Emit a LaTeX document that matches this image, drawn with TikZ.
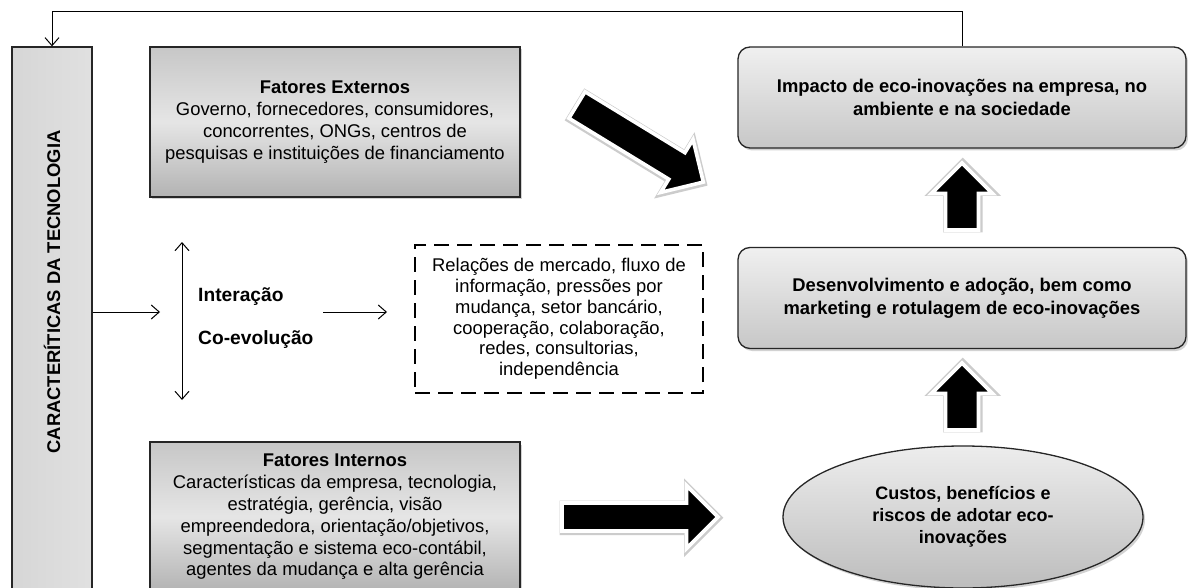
\documentclass[tikz,border=0pt]{standalone}
\usepackage{fontspec}
\setmainfont{Liberation Sans}
\usetikzlibrary{arrows.meta,shapes.geometric,shadows}
\tikzset{
  boxshadow/.style={drop shadow={opacity=0.35,shadow xshift=2pt,shadow yshift=-2.5pt}},
  factorbox/.style={draw=black!85, line width=1.3pt, minimum width=370pt, minimum height=150pt,
    top color=black!22, bottom color=black!30, middle color=black!10, align=center,
    font=\fontsize{18.4}{21.8}\selectfont, boxshadow, inner sep=0pt},
  roundbox/.style={draw=black!85, line width=1.3pt, rounded corners=12pt, minimum width=448pt,
    minimum height=101pt, top color=black!6, bottom color=black!22, align=center,
    font=\bfseries\fontsize{18.4}{23}\selectfont, boxshadow, inner sep=0pt},
  ellbox/.style={ellipse, draw=black!85, line width=1.3pt, minimum width=360pt, minimum height=142pt,
    top color=black!7, bottom color=black!26, align=center, inner sep=0pt,
    font=\bfseries\fontsize{18}{22}\selectfont, boxshadow},
  dashbox/.style={draw=black, line width=2.4pt, dash pattern=on 15pt off 8pt, minimum width=288pt,
    minimum height=148pt, align=center, font=\fontsize{18.4}{20.8}\selectfont, inner sep=0pt},
  barbox/.style={draw=black!85, line width=1.3pt, minimum width=80pt, minimum height=560pt,
    left color=black!16, right color=black!12, inner sep=0pt},
  lbl/.style={font=\bfseries\fontsize{19.2}{22}\selectfont, inner sep=0pt},
  thinarrow/.style={line width=1pt, -{Straight Barb[length=8pt,width=14pt]}},
  barrowglow/.style={draw=black!20, line width=6.5pt, fill=black!20, line join=miter},
  barrow/.style={draw=white, line width=3.6pt, fill=black, line join=miter},
}
% #1 x, #2 y (tail centre), #3 angle, #4 length, #5 shaft width, #6 head width
\newcommand\blockarr[6]{%
  \begin{scope}[shift={(#1,#2)},rotate=#3]
    \draw[barrowglow, xshift=0.8pt, yshift=-0.8pt] (0,#5/2) -- (#4-#6/2,#5/2) -- (#4-#6/2,#6/2) -- (#4,0)
      -- (#4-#6/2,-#6/2) -- (#4-#6/2,-#5/2) -- (0,-#5/2) -- cycle;
    \draw[barrow] (0,#5/2) -- (#4-#6/2,#5/2) -- (#4-#6/2,#6/2) -- (#4,0)
      -- (#4-#6/2,-#6/2) -- (#4-#6/2,-#5/2) -- (0,-#5/2) -- cycle;
  \end{scope}}
\begin{document}
\begin{tikzpicture}[x=1pt,y=-1pt]
\useasboundingbox[fill=white] (0,0) rectangle (1188,588);

% left bar
\node[barbox] (bar) at (52,327) {};
\node[rotate=90, font=\bfseries\fontsize{18.4}{20}\selectfont] (bartxt) at (52,292) {CARACTERÍTICAS DA TECNOLOGIA};

% factor boxes
\node[factorbox] (ext) at (335,122) {\textbf{Fatores Externos}\\Governo, fornecedores, consumidores,\\concorrentes, ONGs, centros de\\pesquisas e instituições de financiamento};
\node[factorbox] (int) at (335,517) {\textbf{Fatores Internos}\\Características da empresa, tecnologia,\\estratégia, gerência, visão\\empreendedora, orientação/objetivos,\\segmentação e sistema eco-contábil,\\agentes da mudança e alta gerência};

% dashed box
\node[dashbox] (rel) at (559,319) {Relações de mercado, fluxo de\\informação, pressões por\\mudança, setor bancário,\\cooperação, colaboração,\\redes, consultorias,\\independência};

% right column
\node[roundbox] (imp) at (962,97.5) {Impacto de eco-inovações na empresa, no\\ambiente e na sociedade};
\node[roundbox] (dev) at (962,298) {Desenvolvimento e adoção, bem como\\marketing e rotulagem de eco-inovações};
\node[ellbox] (cost) at (963,517) {Custos, benefícios e\\riscos de adotar eco-\\inovações};

% labels
\node[lbl, anchor=west] (inter) at (198,297) {Interação};
\node[lbl, anchor=west] (coev) at (198,340) {Co-evolução};

% thin arrows
\coordinate (a1e) at (160,312);
\draw[thinarrow] (bar.east |- a1e) -- (a1e);
\coordinate (a2s) at (323,312);
\coordinate (a2e) at (387,312);
\draw[thinarrow] (a2s) -- (a2e);
\coordinate (vt) at (182,242);
\coordinate (vb) at (182,400);
\draw[line width=1pt, {Straight Barb[length=8pt,width=14pt]}-{Straight Barb[length=8pt,width=14pt]}] (vt) -- (vb);

% feedback
\draw[thinarrow] (imp.north) -- ++(0,-35) -| (bar.north);

% block arrows
\blockarr{577}{105}{-31.4}{148}{31}{62}
\blockarr{562}{517}{0}{156}{28}{63}
\blockarr{962}{230}{90}{67}{33}{61}
\blockarr{962}{430}{90}{67}{33}{61}
\end{tikzpicture}
\end{document}
